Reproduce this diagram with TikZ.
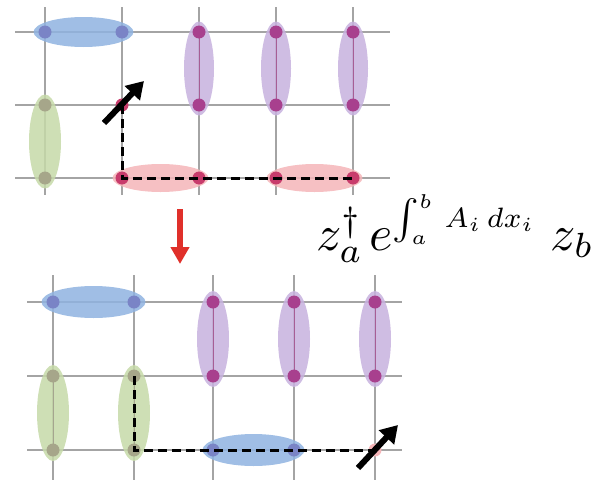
\documentclass[tikz,border=0pt]{standalone}
\usetikzlibrary{arrows.meta,calc}
\definecolor{gridc}{HTML}{A4A4A4}
\definecolor{blueE}{HTML}{8FB3E0}
\definecolor{blueD}{HTML}{7A84C6}
\definecolor{purpE}{HTML}{C7B2DE}
\definecolor{purpD}{HTML}{A8408E}
\definecolor{greenE}{HTML}{C6D9A8}
\definecolor{greenD}{HTML}{A6A68A}
\definecolor{pinkE}{HTML}{F5B5B8}
\definecolor{pinkD}{HTML}{C83C6C}
\definecolor{redA}{HTML}{E0302A}
\tikzset{
  gridline/.style={gridc, line width=1.1pt},
  ellH/.style={fill opacity=0.85},
  dotc/.style={circle, inner sep=0pt, minimum size=13pt},
  dashpath/.style={black, line width=3pt, dash pattern=on 9pt off 5pt},
  bigarrow/.style={black, line width=6pt, -{Triangle[length=17pt,width=20pt]}},
}
\begin{document}
\begin{tikzpicture}[x=1pt,y=-1pt]
\useasboundingbox (0,0) rectangle (602,482);
% ---------- top grid ----------
\foreach \x in {45,122,199,276,353} \draw[gridline] (\x,7) -- (\x,195);
\foreach \y in {32,105,178} \draw[gridline] (15,\y) -- (390,\y);
\foreach \i/\x in {1/45,2/122,3/199,4/276,5/353}
  \foreach \j/\y in {1/32,2/105,3/178} \coordinate (t\i\j) at (\x,\y);
% ellipses
\fill[blueE, ellH] ($(t11)!0.5!(t21)$) ellipse [x radius=50pt, y radius=15pt];
\foreach \i in {3,4,5} \fill[purpE, ellH] ($(t\i1)!0.5!(t\i2)$) ellipse [x radius=15pt, y radius=47pt];
\fill[greenE, ellH] ($(t12)!0.5!(t13)$) ellipse [x radius=16pt, y radius=47pt];
\fill[pinkE, ellH] ($(t23)!0.5!(t33)$) ellipse [x radius=48pt, y radius=14pt];
\fill[pinkE, ellH] ($(t43)!0.5!(t53)$) ellipse [x radius=48pt, y radius=14pt];
\foreach \i in {3,4,5} \draw[purpD!70!gridc, line width=1pt] (t\i1) -- (t\i2);
% dots
\foreach \p in {t11,t21} \node[dotc, fill=blueD] (d\p) at (\p) {};
\foreach \p in {t31,t32,t41,t42,t51,t52} \node[dotc, fill=purpD] (d\p) at (\p) {};
\foreach \p in {t12,t13} \node[dotc, fill=greenD] (d\p) at (\p) {};
\foreach \p in {t22,t23,t33,t43,t53} \node[dotc, fill=pinkD] (d\p) at (\p) {};
% path and arrow
\draw[dashpath] (t22) -- (t23) -- (t53);
\coordinate (ta0) at (104,123);
\coordinate (ta1) at (144,81);
\draw[bigarrow] (ta0) -- (ta1);
% ---------- red arrow ----------
\coordinate (r0) at (180,209);
\coordinate (r1) at (180,264);
\draw[redA, line width=6pt, -{Triangle[length=17pt,width=18pt]}] (r0) -- (r1);
% ---------- formula ----------
\node[anchor=base west, inner sep=0pt] (formula) at (316,250)
  {\scalebox{5}{$z_a^\dagger\mkern2mu e^{\scalebox{0.8}{$\scriptstyle\int_a^b\, A_i\, dx_i$}}\;z_b$}};
% ---------- bottom grid ----------
\foreach \x in {53,134,213,294,375} \draw[gridline] (\x,275) -- (\x,480);
\foreach \y in {302,376,450} \draw[gridline] (27,\y) -- (402,\y);
\foreach \i/\x in {1/53,2/134,3/213,4/294,5/375}
  \foreach \j/\y in {1/302,2/376,3/450} \coordinate (b\i\j) at (\x,\y);
\fill[blueE, ellH] ($(b11)!0.5!(b21)$) ellipse [x radius=52pt, y radius=16pt];
\foreach \i in {3,4,5} \fill[purpE, ellH] ($(b\i1)!0.5!(b\i2)$) ellipse [x radius=16pt, y radius=48pt];
\foreach \i in {1,2} \fill[greenE, ellH] ($(b\i2)!0.5!(b\i3)$) ellipse [x radius=16pt, y radius=48pt];
\fill[blueE, ellH] ($(b33)!0.5!(b43)$) ellipse [x radius=51pt, y radius=16pt];
\foreach \i in {3,4,5} \draw[purpD!70!gridc, line width=1pt] (b\i1) -- (b\i2);
\foreach \i in {1,2} \draw[greenD!80!gridc, line width=1pt] (b\i2) -- (b\i3);
\foreach \p in {b11,b21,b33,b43} \node[dotc, fill=blueD] (d\p) at (\p) {};
\foreach \p in {b31,b32,b41,b42,b51,b52} \node[dotc, fill=purpD] (d\p) at (\p) {};
\foreach \p in {b12,b13,b22,b23} \node[dotc, fill=greenD] (d\p) at (\p) {};
\node[dotc, fill=pinkE] (db53) at (b53) {};
\draw[dashpath] (b22) -- (b23) -- (b53);
\coordinate (ba0) at (358,468);
\coordinate (ba1) at (398,425);
\draw[bigarrow] (ba0) -- (ba1);
\end{tikzpicture}
\end{document}
